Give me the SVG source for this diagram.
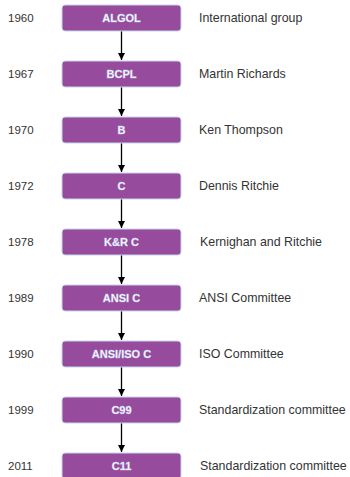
<svg xmlns="http://www.w3.org/2000/svg" width="350" height="477" viewBox="0 0 350 477">
  <defs>
    <marker id="arrow" viewBox="0 0 8 8" refX="8" refY="4" markerWidth="7" markerHeight="7" markerUnits="userSpaceOnUse" orient="auto">
      <path d="M0,0 L8,4 L0,8 Z" fill="#000"/>
    </marker>
    <style>
      .box { fill: #964B9C; stroke: #C9D6EE; stroke-width: 1; }
      .name { font-family: "Liberation Sans", Arial, sans-serif; font-size: 11px; font-weight: bold; fill: #FFFFFF; text-anchor: middle; stroke: #B8CCF0; stroke-width: 0.35; }
      .year { font-family: "Liberation Sans", Arial, sans-serif; font-size: 11.5px; fill: #333333; }
      .who { font-family: "Liberation Sans", Arial, sans-serif; font-size: 12.4px; fill: #333333; }
      .link { stroke: #000; stroke-width: 1.3; fill: none; marker-end: url(#arrow); }
    </style>
  </defs>
  <rect width="350" height="477" fill="#FFFFFF"/>

  <g id="connectors">
    <line class="link" x1="121.5" y1="31" x2="121.5" y2="60"/>
    <line class="link" x1="121.5" y1="87" x2="121.5" y2="116"/>
    <line class="link" x1="121.5" y1="143" x2="121.5" y2="172"/>
    <line class="link" x1="121.5" y1="199" x2="121.5" y2="228"/>
    <line class="link" x1="121.5" y1="255" x2="121.5" y2="284"/>
    <line class="link" x1="121.5" y1="311" x2="121.5" y2="340"/>
    <line class="link" x1="121.5" y1="367" x2="121.5" y2="396"/>
    <line class="link" x1="121.5" y1="423" x2="121.5" y2="452"/>
  </g>

  <g id="algol">
    <text class="year" x="8" y="22">1960</text>
    <rect class="box" x="62" y="5" width="119" height="26" rx="3"/>
    <text class="name" x="121.5" y="22">ALGOL</text>
    <text class="who" x="199" y="22">International group</text>
  </g>
  <g id="bcpl">
    <text class="year" x="8" y="78">1967</text>
    <rect class="box" x="62" y="61" width="119" height="26" rx="3"/>
    <text class="name" x="121.5" y="78">BCPL</text>
    <text class="who" x="199" y="78">Martin Richards</text>
  </g>
  <g id="b">
    <text class="year" x="8" y="134">1970</text>
    <rect class="box" x="62" y="117" width="119" height="26" rx="3"/>
    <text class="name" x="121.5" y="134">B</text>
    <text class="who" x="199" y="134">Ken Thompson</text>
  </g>
  <g id="c">
    <text class="year" x="8" y="190">1972</text>
    <rect class="box" x="62" y="173" width="119" height="26" rx="3"/>
    <text class="name" x="121.5" y="190">C</text>
    <text class="who" x="199" y="190">Dennis Ritchie</text>
  </g>
  <g id="kr-c">
    <text class="year" x="8" y="246">1978</text>
    <rect class="box" x="62" y="229" width="119" height="26" rx="3"/>
    <text class="name" x="121.5" y="246">K&amp;R C</text>
    <text class="who" x="200" y="246">Kernighan and Ritchie</text>
  </g>
  <g id="ansi-c">
    <text class="year" x="8" y="302">1989</text>
    <rect class="box" x="62" y="285" width="119" height="26" rx="3"/>
    <text class="name" x="121.5" y="302">ANSI C</text>
    <text class="who" x="199" y="302">ANSI Committee</text>
  </g>
  <g id="ansi-iso-c">
    <text class="year" x="8" y="358">1990</text>
    <rect class="box" x="62" y="341" width="119" height="26" rx="3"/>
    <text class="name" x="121.5" y="358">ANSI/ISO C</text>
    <text class="who" x="199" y="358">ISO Committee</text>
  </g>
  <g id="c99">
    <text class="year" x="8" y="414">1999</text>
    <rect class="box" x="62" y="397" width="119" height="26" rx="3"/>
    <text class="name" x="121.5" y="414">C99</text>
    <text class="who" x="199" y="414">Standardization committee</text>
  </g>
  <g id="c11">
    <text class="year" x="8" y="470">2011</text>
    <rect class="box" x="62" y="453" width="119" height="26" rx="3"/>
    <text class="name" x="121.5" y="470">C11</text>
    <text class="who" x="200" y="470">Standardization committee</text>
  </g>
</svg>
